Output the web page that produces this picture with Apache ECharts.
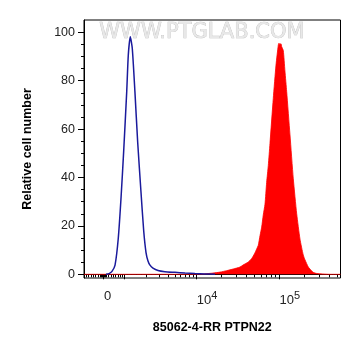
<!DOCTYPE html>
<html>
<head>
<meta charset="utf-8">
<script src="https://cdn.jsdelivr.net/npm/echarts@6/dist/echarts.min.js"></script>
<style>
  html, body { margin: 0; padding: 0; background: #fff; }
  #chart { width: 361px; height: 356px; }
</style>
</head>
<body>
<div id="chart"></div>
<script>
// x values are in display units of the biexponential axis: 10^4 -> 4, 10^5 -> 5
const xMin = 2.639
const xMax = 5.737
const zeroPos = 2.872
const decade3Pos = 3.126

// control (unstained) histogram, blue outline
const blueX = [2.905, 2.941, 2.977, 3.014, 3.053, 3.086, 3.118, 3.155, 3.174, 3.198,
  3.222, 3.254, 3.287, 3.327, 3.360, 3.388, 3.412, 3.436, 3.472, 3.533, 3.616, 3.737, 3.859,
  3.979, 4.100, 4.221]
const blueY = [0, 0.3, 1.2, 3.8, 14.9, 31.4, 50.7, 75.5, 90.6, 98.2,
  93.4, 75.5, 54.8, 34.1, 18, 9, 5.5, 3.8, 2.6, 1.6, 1.1, 0.8, 0.5,
  0.3, 0.15, 0]

// PTPN22 stained histogram, red filled
const redX = [2.639, 4.000, 4.100, 4.197, 4.281, 4.362, 4.442, 4.523, 4.563, 4.620, 4.664, 4.698,
  4.725, 4.744, 4.765, 4.785, 4.804, 4.825, 4.845, 4.865, 4.885, 4.925, 4.958, 4.986, 4.994,
  5.006, 5.018, 5.027, 5.046, 5.066, 5.087, 5.127, 5.167, 5.208, 5.248, 5.287, 5.308, 5.348,
  5.368, 5.408, 5.441, 5.489, 5.610, 5.737]
const redY = [0, 0, 0.2, 0.5, 0.9, 1.5, 2.2, 3.0, 3.9, 5.0, 6.5, 8.5,
  10.5, 12, 16, 19.5, 24.5, 29, 38, 45, 54, 72.7, 86.5, 94.8, 95.5,
  95, 95.3, 94, 92.5, 84, 75.5, 57.6, 39.5, 25, 14.5, 8, 6, 3,
  2.2, 0.8, 0.4, 0.2, 0, 0]

const yMajor = [0, 20, 40, 60, 80, 100]
const yMinor = [5, 10, 15, 25, 30, 35, 45, 50, 55, 65, 70, 75, 85, 90, 95]
const xLabelPos = [2.882, 4, 5]

// tick marks of the x axis
const xMajor = [zeroPos, decade3Pos, 4, 5]
const xMinor = []
for (let k = 2; k <= 9; k++) {
  xMinor.push(decade3Pos + (4 - decade3Pos) * Math.log10(k))
  xMinor.push(4 + Math.log10(k))
  if (5 + Math.log10(k) < xMax) xMinor.push(5 + Math.log10(k))
}
for (let k = 1; k <= 3; k++) {
  xMinor.push(zeroPos - k * 0.012, zeroPos + k * 0.012)
}
for (let d = zeroPos - 0.064; d > xMin; d -= 0.028) xMinor.push(d)
for (let d = zeroPos + 0.064; d < decade3Pos - 0.01; d += 0.028) xMinor.push(d)

const pairs = (xs, ys) => xs.map((x, i) => [x, ys[i]])

const font = 'Arial, "Liberation Sans", sans-serif'
const chart = echarts.init(document.getElementById('chart'))

chart.setOption({
  animation: false,
  grid: {
    left: 84, top: 20, right: 20.5, bottom: 78,
    show: true, borderColor: '#000', borderWidth: 1, backgroundColor: 'transparent'
  },
  graphic: [{
    type: 'text',
    left: 99, top: 22, z: 0,
    style: {
      text: 'WWW.PTGLAB.COM',
      font: '21px "DejaVu Sans", sans-serif',
      fill: '#e8e8e8',
      stroke: '#bdbdbd',
      lineWidth: 0.7
    }
  }],
  xAxis: [{
    type: 'value', min: xMin, max: xMax,
    name: '85062-4-RR PTPN22', nameLocation: 'middle', nameGap: 43,
    nameTextStyle: { fontFamily: font, fontWeight: 'bold', fontSize: 12.5, color: '#000' },
    splitLine: { show: false },
    axisLine: { lineStyle: { color: '#000', width: 1 } },
    axisTick: { customValues: xMajor, length: 5, lineStyle: { color: '#000' } },
    axisLabel: {
      customValues: xLabelPos, margin: 12, align: 'left',
      formatter: v => v < 3 ? '{b|0}' : '{b|10}{s|' + Math.round(v) + '}',
      rich: {
        b: { fontFamily: font, fontSize: 13, color: '#222' },
        s: { fontFamily: font, fontSize: 11, color: '#222', padding: [0, 0, 9, 0] }
      }
    }
  }, {
    type: 'value', min: xMin, max: xMax, position: 'bottom',
    splitLine: { show: false },
    axisLine: { show: false },
    axisTick: { customValues: xMinor, length: 3, lineStyle: { color: '#000' } },
    axisLabel: { show: false }
  }],
  yAxis: [{
    type: 'value', min: -1.53, max: 105.1, position: 'left',
    name: 'Relative cell number', nameLocation: 'middle', nameGap: 50,
    nameTextStyle: { fontFamily: font, fontWeight: 'bold', fontSize: 12.5, color: '#000' },
    splitLine: { show: false },
    axisLine: { show: true, lineStyle: { color: '#000', width: 1 } },
    axisTick: { show: true, customValues: yMajor, length: 6, lineStyle: { color: '#000' } },
    axisLabel: { customValues: yMajor, margin: 9, fontFamily: font, fontSize: 12.5, color: '#222' }
  }, {
    type: 'value', min: -1.53, max: 105.1, position: 'left', offset: 0,
    splitLine: { show: false },
    axisLine: { show: false },
    axisTick: { show: true, customValues: yMinor, length: 3, lineStyle: { color: '#000' } },
    axisLabel: { show: false }
  }],
  series: [{
    type: 'line',
    data: pairs(redX, redY),
    showSymbol: false,
    smooth: 0.2,
    lineStyle: { color: '#ff0000', width: 0.8 },
    areaStyle: { color: '#ff0000', opacity: 1 },
    z: 2
  }, {
    type: 'line',
    data: pairs(blueX, blueY),
    showSymbol: false,
    smooth: 0.2,
    lineStyle: { color: '#1a1a9c', width: 1.5 },
    z: 3
  }]
})
</script>
</body>
</html>
